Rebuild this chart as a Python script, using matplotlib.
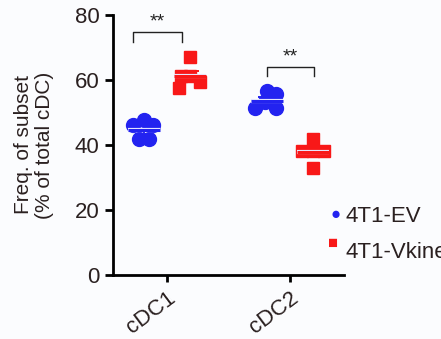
import matplotlib
matplotlib.use('Agg')
import matplotlib.pyplot as plt
import matplotlib.patheffects as pe
import numpy as np

plt.rcParams['font.family'] = ['Liberation Sans', 'DejaVu Sans']

subsets = ['cDC1', 'cDC2']
groups = ['4T1-EV', '4T1-Vkine']
ev_cdc1 = [46.2, 47.7, 46.2, 41.8, 41.8]
vk_cdc1 = [67.1, 61.2, 61.2, 59.4, 57.5]
ev_cdc2 = [56.6, 55.7, 51.4, 53.2, 51.4]
vk_cdc2 = [41.8, 38.2, 38.2, 38.2, 32.9]
stars = ['**', '**']

BLUE = '#2323f0'
RED = '#f81818'
BG = '#fbfcfe'
TXT = '#2a2020'

# horizontal spread of the points within a group (swarm-ish)
spread = {
    'ev_cdc1': [-0.09, 0.0, 0.08, -0.04, 0.04],
    'vk_cdc1': [0.0, -0.08, 0.0, 0.08, -0.09],
    'ev_cdc2': [0.0, 0.08, -0.09, -0.01, 0.08],
    'vk_cdc2': [0.0, -0.09, 0.09, 0.0, 0.0],
}

fig = plt.figure(figsize=(4.41, 3.39), dpi=100, facecolor=BG)
ax = fig.add_axes([0.256, 0.189, 0.524, 0.767], facecolor=BG)

halo = [pe.Stroke(linewidth=3.0, foreground='#e8e8ff'), pe.Normal()]

off = 0.19
sets = [
    (0 - off, ev_cdc1, 'ev_cdc1', BLUE, 'o'),
    (0 + off, vk_cdc1, 'vk_cdc1', RED, 's'),
    (1 - off, ev_cdc2, 'ev_cdc2', BLUE, 'o'),
    (1 + off, vk_cdc2, 'vk_cdc2', RED, 's'),
]
for xc, vals, key, col, mk in sets:
    vals = np.array(vals)
    xs = xc + np.array(spread[key])
    ax.plot(xs, vals, linestyle='none', marker=mk, ms=10 if mk == 'o' else 9,
            color=col, mec=col, zorder=3)
    m = vals.mean()
    sem = vals.std(ddof=1) / np.sqrt(len(vals))
    ax.hlines([m - sem, m + sem], xc - 0.07, xc + 0.07, color=col, lw=1.4, zorder=4)
    ax.vlines(xc, m - sem, m + sem, color=col, lw=1.4, zorder=4)
    ax.hlines(m, xc - 0.13, xc + 0.13, color=col, lw=2.2, zorder=5, path_effects=halo)

# significance brackets
brackets = [(-0.28, 0.12, 71.7, 74.8), (0.81, 1.2, 61.2, 64.0)]
for (x0, x1, y0, y1), s in zip(brackets, stars):
    ax.plot([x0, x0, x1, x1], [y0, y1, y1, y0], color='#222222', lw=1.0)
    ax.text((x0 + x1) / 2, y1 + 0.3, s, ha='center', va='bottom', fontsize=14, color='#222222')

ax.set_xlim(-0.44, 1.44)
ax.set_ylim(0, 80)
ax.set_yticks([0, 20, 40, 60, 80])
ax.set_xticks([0, 1])
ax.set_xticklabels(subsets, rotation=37, ha='right', rotation_mode='anchor')
for sp in ['top', 'right']:
    ax.spines[sp].set_visible(False)
for sp in ['left', 'bottom']:
    ax.spines[sp].set_linewidth(2.0)
    ax.spines[sp].set_color('black')
ax.tick_params(axis='both', width=2.0, length=6, labelsize=16, colors='black',
               labelcolor=TXT)
ax.tick_params(axis='x', length=5, pad=4)
ax.set_ylabel('Freq. of subset\n(% of total cDC)', fontsize=15, color=TXT,
              labelpad=15, linespacing=1.15)

# legend drawn by hand so it can run past the right edge
fig.text(336 / 441, 1 - 214 / 339, u'\u25cf', color=BLUE, fontsize=12, ha='center', va='center')
fig.text(345 / 441, 1 - 217 / 339, groups[0], color=TXT, fontsize=16, ha='left', va='center')
fig.text(333 / 441, 1 - 243 / 339, u'\u25a0', color=RED, fontsize=12, ha='center', va='center')
fig.text(345 / 441, 1 - 252 / 339, groups[1], color=TXT, fontsize=16, ha='left', va='center')

fig.savefig('out.png', dpi=100, facecolor=BG)
